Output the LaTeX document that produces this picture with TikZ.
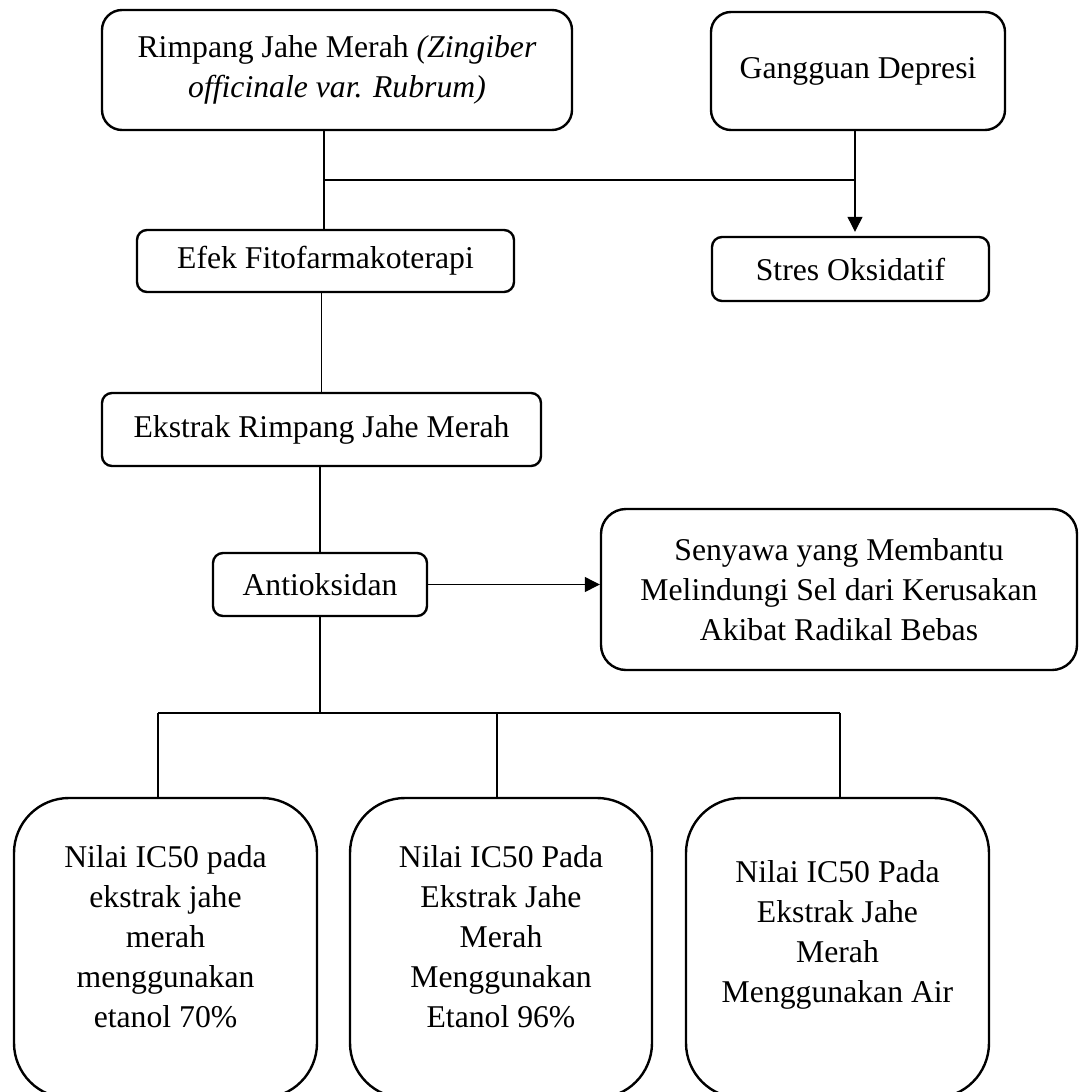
\documentclass[tikz,border=0pt]{standalone}
\usepackage{fontspec}
\setmainfont{Liberation Serif}
\usetikzlibrary{arrows.meta}
\begin{document}
\begin{tikzpicture}[x=1pt,y=-1pt,
  boxtxt/.style={align=center, font=\fontsize{31.7}{40}\selectfont},
  box/.style={draw, line width=2.4pt, rounded corners=#1, boxtxt, inner sep=0pt},
  box/.default=10pt,
  conn/.style={line width=1.2pt},
  arr/.style={conn, -{Triangle[width=15pt,length=15pt]}}]
\useasboundingbox (0,0) rectangle (1080,1092);
\clip (0,0) rectangle (1080,1092);
\fill[white] (0,0) rectangle (1080,1092);

\node[box=20pt, minimum width=470pt, minimum height=120pt] (rimpang) at (337,70)
  {Rimpang Jahe Merah \textit{(Zingiber}\\\textit{officinale var. Rubrum)}};
\node[box=20pt, minimum width=294pt, minimum height=118pt] (depresi) at (858,71) {Gangguan Depresi};
\node[box, minimum width=377pt, minimum height=62pt] (efek) at (325.5,261) {Efek Fitofarmakoterapi};
\node[box, minimum width=277pt, minimum height=64pt] (stres) at (850.5,269) {Stres Oksidatif};
\node[box, minimum width=439pt, minimum height=73pt] (ekstrak) at (321.5,429.5) {Ekstrak Rimpang Jahe Merah};
\node[box, minimum width=214pt, minimum height=63pt] (anti) at (320,584.5) {Antioksidan};
\node[box=25pt, minimum width=476pt, minimum height=161pt] (senyawa) at (839,589.5)
  {Senyawa yang Membantu\\Melindungi Sel dari Kerusakan\\Akibat Radikal Bebas};

\node[box=55pt, minimum width=303pt, minimum height=300pt] (icA) at (165.5,948) {};
\node[box=55pt, minimum width=302pt, minimum height=300pt] (icB) at (501,948) {};
\node[box=55pt, minimum width=303pt, minimum height=300pt] (icC) at (837.5,948) {};
\node[boxtxt] (icAt) at (165.5,937) {Nilai IC50 pada\\ekstrak jahe\\merah\\menggunakan\\etanol 70\%};
\node[boxtxt] (icBt) at (501,937) {Nilai IC50 Pada\\Ekstrak Jahe\\Merah\\Menggunakan\\Etanol 96\%};
\node[boxtxt] (icCt) at (837.5,935) {Nilai IC50 Pada\\Ekstrak Jahe\\Merah\\Menggunakan Air};

\coordinate (ja) at (324,180);
\coordinate (jb) at (855,180);
\draw[conn] (rimpang.south -| ja) -- (efek.north -| ja);
\draw[conn] (ja) -- (jb);
\draw[arr, shorten >=4pt] (depresi.south -| jb) -- (stres.north -| jb);
\draw[conn] (efek.south -| ekstrak.north) -- (ekstrak.north);
\draw[conn] (ekstrak.south -| anti.north) -- (anti.north);
\draw[arr] (anti.east) -- (anti.east -| senyawa.west);

\coordinate (ha) at (158,713);
\coordinate (hb) at (497,713);
\coordinate (hc) at (840,713);
\draw[conn] (anti.south) -- (anti.south |- ha);
\draw[conn] (ha) -- (hc);
\draw[conn] (ha) -- (ha |- icA.north);
\draw[conn] (hb) -- (hb |- icB.north);
\draw[conn] (hc) -- (hc |- icC.north);
\end{tikzpicture}
\end{document}
